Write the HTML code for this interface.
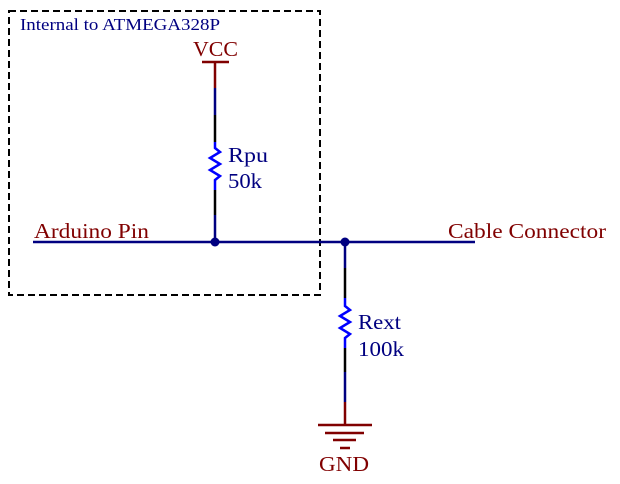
<!DOCTYPE html>
<html><head><style>html,body{margin:0;padding:0;background:#fff;width:620px;height:484px;overflow:hidden}</style></head>
<body>
<svg width="620" height="484" viewBox="0 0 620 484" xmlns="http://www.w3.org/2000/svg" font-family="Liberation Serif, serif">
<rect x="9" y="11" width="311" height="284" fill="none" stroke="#000" stroke-width="2" stroke-dasharray="7,4"/>
<text x="20" y="30" font-size="17" fill="#000080" textLength="200" lengthAdjust="spacingAndGlyphs">Internal to ATMEGA328P</text>
<text x="193" y="56" font-size="21" fill="#800000" textLength="45" lengthAdjust="spacingAndGlyphs">VCC</text>
<line x1="202" y1="62" x2="229" y2="62" stroke="#800000" stroke-width="2.5"/>
<line x1="215" y1="62" x2="215" y2="88" stroke="#800000" stroke-width="2.5"/>
<line x1="215" y1="88" x2="215" y2="115" stroke="#000080" stroke-width="2.5"/>
<line x1="215" y1="115" x2="215" y2="142" stroke="#000" stroke-width="2.5"/>
<polyline points="215,142 215,148 220,152 210,158 220,164 210,170 220,176 215,180 215,190" fill="none" stroke="#0000ff" stroke-width="2.5"/>
<line x1="215" y1="190" x2="215" y2="215" stroke="#000" stroke-width="2.5"/>
<line x1="215" y1="215" x2="215" y2="242" stroke="#000080" stroke-width="2.5"/>
<text x="228" y="162" font-size="21" fill="#000080" textLength="40" lengthAdjust="spacingAndGlyphs">Rpu</text>
<text x="228" y="188" font-size="21" fill="#000080" textLength="34" lengthAdjust="spacingAndGlyphs">50k</text>
<line x1="33" y1="242" x2="475" y2="242" stroke="#000080" stroke-width="2.5"/>
<circle cx="215" cy="242" r="4.5" fill="#000080"/>
<circle cx="345" cy="242" r="4.5" fill="#000080"/>
<text x="34" y="238" font-size="21" fill="#800000" textLength="115" lengthAdjust="spacingAndGlyphs">Arduino Pin</text>
<text x="448" y="238" font-size="21" fill="#800000" textLength="158" lengthAdjust="spacingAndGlyphs">Cable Connector</text>
<line x1="345" y1="242" x2="345" y2="268" stroke="#000080" stroke-width="2.5"/>
<line x1="345" y1="268" x2="345" y2="298" stroke="#000" stroke-width="2.5"/>
<polyline points="345,298 345,306 350,310 340,316 350,322 340,328 350,334 345,338 345,348" fill="none" stroke="#0000ff" stroke-width="2.5"/>
<line x1="345" y1="348" x2="345" y2="372" stroke="#000" stroke-width="2.5"/>
<line x1="345" y1="372" x2="345" y2="402" stroke="#000080" stroke-width="2.5"/>
<line x1="345" y1="402" x2="345" y2="425" stroke="#800000" stroke-width="2.5"/>
<text x="358" y="329" font-size="21" fill="#000080" textLength="43" lengthAdjust="spacingAndGlyphs">Rext</text>
<text x="358" y="356" font-size="21" fill="#000080" textLength="46" lengthAdjust="spacingAndGlyphs">100k</text>
<g stroke="#800000" stroke-width="2.5">
<line x1="318" y1="425" x2="372" y2="425"/>
<line x1="325" y1="433" x2="364" y2="433"/>
<line x1="333" y1="440" x2="356" y2="440"/>
<line x1="340" y1="448" x2="350" y2="448"/>
</g>
<text x="319" y="471" font-size="21" fill="#800000" textLength="50" lengthAdjust="spacingAndGlyphs">GND</text>
</svg>
</body></html>
